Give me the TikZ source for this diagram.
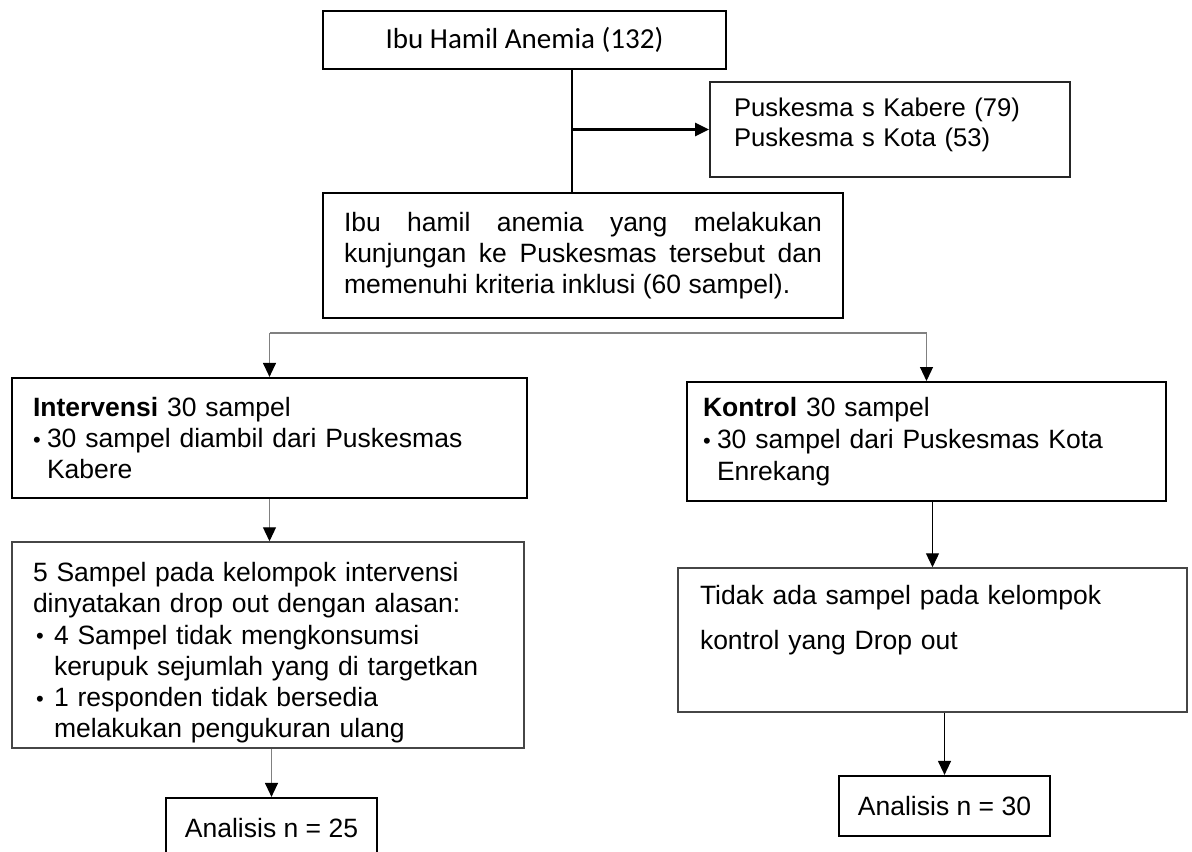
\documentclass[tikz,border=0pt]{standalone}
\usepackage{fontspec}
\setmainfont{Liberation Sans}
\newfontfamily\calibrifont{Carlito}
\usepackage{tikz}
\usetikzlibrary{arrows.meta}
\definecolor{linegray}{RGB}{128,128,128}
\definecolor{framegray}{RGB}{70,70,70}
\newcommand{\dotitem}[1]{\makebox[#1][l]{\raisebox{0.1pt}{\fontsize{11}{11}\selectfont\textbullet}}}
\newcommand{\lift}[1]{\rule{0pt}{#1}}
\hyphenpenalty=10000
\exhyphenpenalty=10000
\tolerance=10000

\begin{document}
\begin{tikzpicture}[x=0.5pt,y=-0.5pt,line cap=butt,
  box/.style={draw,line width=1.1pt,inner sep=0pt,font=\fontsize{13.25}{15.6}\selectfont},
  thinbox/.style={box,draw=framegray,line width=0.75pt},
  flow/.style={line width=0.6pt,-{Triangle[length=7pt,width=6.5pt,color=black]}}]
  % sample flow: anaemic mothers, the two health centres, the split into intervention and control
  \useasboundingbox (0,0) rectangle (1192,851);
  \clip (0,0) rectangle (1192,851);
  \node[box,line width=1.2pt,minimum width=201.5pt,minimum height=29pt,font=\calibrifont\fontsize{14.5}{17}\selectfont] (start) at (524.5,40) {Ibu Hamil Anemia (132)};
  \node[box,line width=0.9pt,draw=black!85,inner xsep=12pt,text width=156pt,minimum height=47.5pt,align=left,font=\fontsize{12.8}{15}\selectfont] (pusk) at (890,129.5) {Puskesma s Kabere (79)\\Puskesma s Kota (53)\\[-7.5pt]\mbox{}};
  \node[box,line width=1.2pt,inner xsep=10.5pt,text width=239pt,minimum height=62.5pt,align=justify,font=\fontsize{13.25}{15.5}\selectfont] (incl) at (583,255.5) {Ibu hamil anemia yang melakukan kunjungan ke Puskesmas tersebut dan memenuhi kriteria inklusi (60 sampel).};
  \node[box,inner xsep=10.5pt,text width=236.5pt,minimum height=60pt,align=left] (intv) at (269.5,438) {\textbf{Intervensi} 30 sampel\\\dotitem{7pt}30 sampel diambil dari Puskesmas\\\hspace*{7pt}Kabere};
  \node[thinbox,inner xsep=10.5pt,text width=235pt,minimum height=103pt,align=left] (drop) at (268,645) {\lift{17.5pt}5 Sampel pada kelompok intervensi\\dinyatakan drop out dengan alasan:\\\hspace*{1.5pt}\dotitem{9pt}4 Sampel tidak mengkonsumsi\\\hspace*{10.5pt}kerupuk sejumlah yang di targetkan\\\hspace*{1.5pt}\dotitem{9pt}1 responden tidak bersedia\\\hspace*{10.5pt}melakukan pengukuran ulang};
  \node[box,line width=1pt,inner xsep=8pt,text width=223.5pt,minimum height=59.5pt,align=left,font=\fontsize{13.25}{16}\selectfont] (ktrl) at (926.5,441.5) {\textbf{Kontrol} 30 sampel\\\dotitem{7pt}30 sampel dari Puskesmas Kota\\\hspace*{7pt}Enrekang};
  \node[thinbox,inner xsep=11pt,text width=232.5pt,minimum height=72pt,align=left,font=\fontsize{13.25}{22.5}\selectfont] (none) at (932.5,640) {Tidak ada sampel pada kelompok\\kontrol yang Drop out\\\mbox{}};
  \node[box,minimum width=105.5pt,minimum height=30pt] (ana1) at (271.5,828) {Analisis n = 25};
  \node[box,minimum width=105.5pt,minimum height=30pt] (ana2) at (944.5,806) {Analisis n = 30};
  \coordinate (trunk) at (572,0);
  \coordinate (split) at (0,333);
  \draw[line width=1.2pt] (start.south -| trunk) -- (incl.north -| trunk);
  \draw[line width=1.2pt,-{Triangle[length=7pt,width=6.5pt]}] (trunk |- pusk.west) -- (pusk.west);
  \draw[linegray,line width=0.6pt] (intv.north |- split) -- (ktrl.north |- split);
  \draw[flow,linegray] (intv.north |- split) -- (intv.north);
  \draw[flow,linegray] (ktrl.north |- split) -- (ktrl.north);
  \draw[flow,linegray] (intv.south) -- (intv.south |- drop.north);
  \draw[flow,linegray] (drop.south -| ana1) -- (ana1.north);
  \draw[flow] (ktrl.south -| none) -- (none.north);
  \draw[flow] (none.south -| ana2) -- (ana2.north);
\end{tikzpicture}
\end{document}
